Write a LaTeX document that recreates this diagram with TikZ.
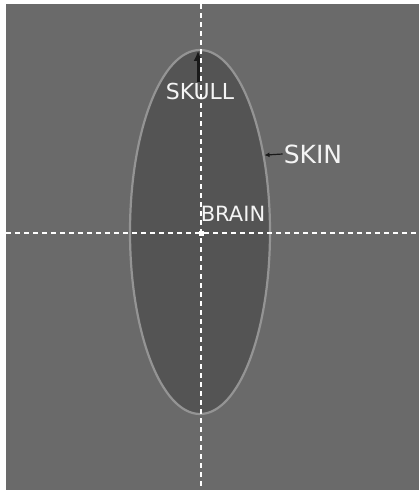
\documentclass[tikz,border=0pt]{standalone}
\usepackage{fontspec}
\setmainfont{DejaVu Sans}
\usepackage{tikz}
\usetikzlibrary{arrows.meta,positioning,calc,shapes.geometric}
\definecolor{scanGray}{RGB}{106,106,106}
\definecolor{scanDark}{RGB}{84,84,84}
\definecolor{scanRim}{RGB}{148,148,148}
\definecolor{scanText}{RGB}{244,244,244}

\begin{document}
\begin{tikzpicture}[x=1pt,y=-1pt]
  \useasboundingbox (0,0) rectangle (419,490);
  \fill[white] (0,0) rectangle (419,490);
  \fill[scanGray] (6,4) rectangle (419,490);
  \node[draw=scanRim,line width=2.2pt,fill=scanDark,ellipse,inner sep=0pt,minimum width=140pt,minimum height=364pt] (head) at (200,232) {};
  \node[text=scanText,font=\fontsize{22}{26}\selectfont,inner sep=1pt] (skull) at (200,91) {SKULL};
  \node[text=scanText,font=\fontsize{21}{25}\selectfont,inner sep=1pt] (brain) at (233,214) {BRAIN};
  \node[text=scanText,font=\fontsize{25}{29}\selectfont,inner sep=1pt] (skin) at (313,154) {SKIN};
  \coordinate (vtop) at (201,4);
  \coordinate (vbot) at (201,490);
  \coordinate (hleft) at (6,233);
  \coordinate (hright) at (419,233);
  \draw[-{Latex[length=10pt,width=9pt]},line width=3pt,black!90] ($(skull.north)+(-2,1)$)--($(head.north)+(-2,2)$);
  \draw[white,line width=1.2pt,dash pattern=on 5pt off 4pt] (vtop)--(vbot);
  \draw[white,line width=1.2pt,dash pattern=on 5pt off 4pt] (hleft)--(hright);
  \node[fill=white,inner sep=0pt,minimum size=5pt] (mid) at (201,233) {};
  \draw[-{Latex[length=5pt,width=5pt]},line width=1.2pt,black!90] (skin.west)--(head.50);
\end{tikzpicture}
\end{document}
